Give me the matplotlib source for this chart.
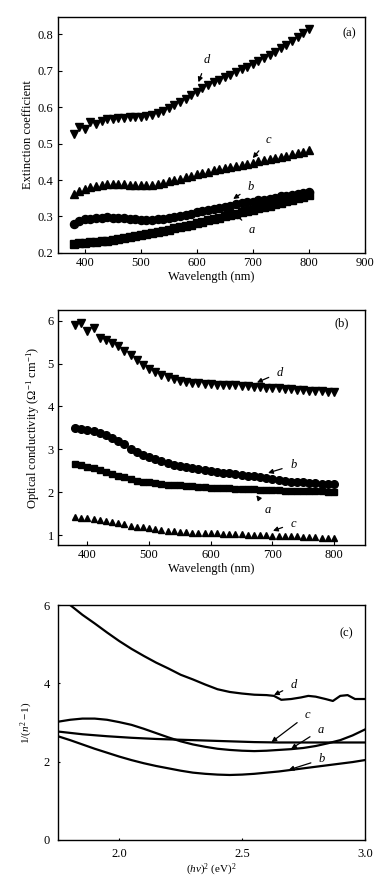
import matplotlib
matplotlib.use("Agg")
import matplotlib.pyplot as plt
import numpy as np

plt.rcParams['font.family'] = ['Liberation Serif', 'DejaVu Serif']
plt.rcParams['mathtext.fontset'] = 'custom'
plt.rcParams['mathtext.rm'] = 'Liberation Serif'
plt.rcParams['mathtext.it'] = 'Liberation Serif:italic'

# ---------- Panel (a): extinction coefficient ----------
wl = list(range(380, 801, 10))
ext_a = [0.225, 0.226, 0.228, 0.229, 0.231, 0.232, 0.234, 0.236, 0.238, 0.240,
         0.243, 0.246, 0.249, 0.252, 0.255, 0.258, 0.261, 0.264, 0.268, 0.271,
         0.275, 0.278, 0.282, 0.286, 0.290, 0.293, 0.297, 0.300, 0.304, 0.308,
         0.312, 0.315, 0.319, 0.322, 0.326, 0.330, 0.334, 0.338, 0.342, 0.346,
         0.350, 0.354, 0.358]
ext_b = [0.280, 0.287, 0.292, 0.294, 0.296, 0.297, 0.298, 0.297, 0.296, 0.295,
         0.293, 0.292, 0.291, 0.291, 0.291, 0.292, 0.294, 0.296, 0.298, 0.301,
         0.304, 0.308, 0.312, 0.315, 0.318, 0.321, 0.324, 0.327, 0.330, 0.333,
         0.336, 0.339, 0.341, 0.344, 0.346, 0.349, 0.352, 0.355, 0.357, 0.360,
         0.362, 0.365, 0.367]
ext_c = [0.363, 0.370, 0.376, 0.380, 0.383, 0.386, 0.388, 0.389, 0.389, 0.388,
         0.387, 0.386, 0.386, 0.386, 0.387, 0.389, 0.392, 0.396, 0.400, 0.404,
         0.408, 0.412, 0.416, 0.420, 0.423, 0.427, 0.430, 0.433, 0.436, 0.439,
         0.442, 0.445, 0.448, 0.451, 0.454, 0.457, 0.460, 0.463, 0.466, 0.470,
         0.474, 0.478, 0.482]
ext_d = [0.525, 0.545, 0.540, 0.560, 0.553, 0.563, 0.566, 0.568, 0.570, 0.571,
         0.572, 0.573, 0.574, 0.576, 0.579, 0.584, 0.590, 0.597, 0.605, 0.614,
         0.622, 0.632, 0.642, 0.652, 0.660, 0.668, 0.675, 0.682, 0.689, 0.696,
         0.703, 0.711, 0.719, 0.727, 0.735, 0.743, 0.752, 0.761, 0.771, 0.781,
         0.792, 0.803, 0.813]

# ---------- Panel (b): optical conductivity ----------
cond_a = [2.66, 2.63, 2.60, 2.56, 2.52, 2.47, 2.43, 2.39, 2.35, 2.31,
          2.27, 2.25, 2.23, 2.21, 2.19, 2.18, 2.17, 2.16, 2.15, 2.14,
          2.13, 2.12, 2.11, 2.10, 2.10, 2.09, 2.08, 2.08, 2.07, 2.07,
          2.06, 2.06, 2.05, 2.05, 2.04, 2.04, 2.03, 2.03, 2.02, 2.02,
          2.02, 2.01, 2.01]
cond_b = [3.51, 3.48, 3.45, 3.42, 3.38, 3.33, 3.27, 3.20, 3.12, 3.00,
          2.93, 2.87, 2.82, 2.77, 2.72, 2.68, 2.64, 2.61, 2.58, 2.56,
          2.54, 2.51, 2.49, 2.47, 2.46, 2.45, 2.43, 2.41, 2.39, 2.37,
          2.35, 2.33, 2.31, 2.29, 2.27, 2.25, 2.24, 2.23, 2.22, 2.21,
          2.20, 2.19, 2.19]
cond_c = [1.42, 1.41, 1.40, 1.38, 1.36, 1.34, 1.31, 1.28, 1.25, 1.22,
          1.20, 1.18, 1.16, 1.14, 1.12, 1.10, 1.09, 1.08, 1.07, 1.06,
          1.05, 1.05, 1.04, 1.04, 1.03, 1.03, 1.02, 1.02, 1.01, 1.01,
          1.00, 1.00, 0.99, 0.99, 0.98, 0.97, 0.97, 0.96, 0.95, 0.95,
          0.94, 0.94, 0.93]
cond_d = [5.90, 5.94, 5.77, 5.82, 5.60, 5.55, 5.48, 5.40, 5.30, 5.20,
          5.08, 4.97, 4.88, 4.80, 4.74, 4.68, 4.63, 4.60, 4.57, 4.55,
          4.54, 4.53, 4.52, 4.51, 4.50, 4.50, 4.49, 4.48, 4.47, 4.46,
          4.45, 4.44, 4.43, 4.42, 4.41, 4.40, 4.39, 4.38, 4.37, 4.36,
          4.35, 4.34, 4.33]

# ---------- Panel (c): 1/(n^2-1) vs (hv)^2 ----------
e_a = [1.75, 1.80, 1.85, 1.90, 1.95, 2.00, 2.05, 2.10, 2.15, 2.20, 2.25, 2.30, 2.35,
       2.40, 2.45, 2.50, 2.55, 2.60, 2.65, 2.70, 2.75, 2.80, 2.85, 2.90, 2.95, 3.00]
inv_a = [3.02, 3.07, 3.10, 3.10, 3.07, 3.01, 2.94, 2.84, 2.73, 2.62, 2.52, 2.44, 2.38,
         2.33, 2.30, 2.28, 2.27, 2.28, 2.30, 2.32, 2.35, 2.40, 2.47, 2.55, 2.67, 2.82]
e_b = [1.75, 1.80, 1.85, 1.90, 1.95, 2.00, 2.05, 2.10, 2.15, 2.20, 2.25, 2.30, 2.35,
       2.40, 2.45, 2.50, 2.55, 2.60, 2.65, 2.70, 2.75, 2.80, 2.85, 2.90, 2.95, 3.00]
inv_b = [2.65, 2.55, 2.44, 2.33, 2.23, 2.13, 2.04, 1.96, 1.89, 1.83, 1.77, 1.72, 1.69,
         1.67, 1.66, 1.67, 1.69, 1.72, 1.75, 1.79, 1.83, 1.87, 1.91, 1.95, 1.99, 2.04]
e_c = [1.75, 1.85, 1.95, 2.05, 2.15, 2.25, 2.35, 2.45, 2.55, 2.65, 2.75, 2.85, 2.95, 3.00]
inv_c = [2.77, 2.70, 2.65, 2.61, 2.58, 2.56, 2.54, 2.52, 2.50, 2.49, 2.49, 2.49, 2.49, 2.49]
e_d = [1.80, 1.85, 1.90, 1.95, 2.00, 2.05, 2.10, 2.15, 2.20, 2.25, 2.30, 2.35, 2.40,
       2.45, 2.50, 2.55, 2.60, 2.63, 2.66, 2.70, 2.74, 2.77, 2.80, 2.84, 2.87, 2.90,
       2.93, 2.96, 3.00]
inv_d = [6.00, 5.75, 5.53, 5.30, 5.08, 4.88, 4.70, 4.53, 4.38, 4.22, 4.10, 3.97, 3.85,
         3.78, 3.74, 3.71, 3.70, 3.68, 3.58, 3.60, 3.64, 3.68, 3.66, 3.60, 3.55, 3.68,
         3.70, 3.60, 3.60]

FS = 9
fig = plt.figure(figsize=(3.91, 8.83), dpi=100)

def style(ax):
    for s in ax.spines.values():
        s.set_linewidth(1.0)
    ax.tick_params(direction='in', length=3, width=0.8, labelsize=FS, pad=3)

def arrow(ax, label, xy, xytext):
    ax.annotate(label, xy=xy, xytext=xytext, fontsize=FS, style='italic',
                ha='center', va='center',
                arrowprops=dict(arrowstyle='-|>', color='black', lw=0.9,
                                mutation_scale=7, shrinkA=4, shrinkB=0))

# Panel (a)
ax1 = fig.add_axes([0.148, 0.7135, 0.785, 0.2673])
ax1.plot(wl, ext_a, marker='s', color='black', ms=5.2, ls='-', lw=2.0)
ax1.plot(wl, ext_b, marker='o', color='black', ms=5.8, ls='-', lw=2.0)
ax1.plot(wl, ext_c, '^', color='black', ms=5.3, ls='none')
ax1.plot(wl, ext_d, 'v', color='black', ms=5.8, ls='none')
ax1.set_xlim(352, 900)
ax1.set_ylim(0.2, 0.847)
ax1.set_xticks([400, 500, 600, 700, 800, 900])
ax1.set_yticks([0.2, 0.3, 0.4, 0.5, 0.6, 0.7, 0.8])
ax1.set_xlabel('Wavelength (nm)', fontsize=FS, labelpad=1)
ax1.set_ylabel('Extinction coefficient', fontsize=FS, labelpad=3)
style(ax1)
ax1.text(0.95, 0.93, '(a)', transform=ax1.transAxes, fontsize=FS, ha='center', va='center')
arrow(ax1, 'd', (603, 0.668), (618, 0.73))
arrow(ax1, 'c', (700, 0.460), (727, 0.51))
arrow(ax1, 'b', (665, 0.348), (696, 0.38))
arrow(ax1, 'a', (668, 0.308), (698, 0.264))

# Panel (b)
ax2 = fig.add_axes([0.148, 0.3828, 0.785, 0.2661])
ax2.plot(wl, cond_a, 's', color='black', ms=5.0, ls='none')
ax2.plot(wl, cond_b, 'o', color='black', ms=5.5, ls='none')
ax2.plot(wl, cond_c, '^', color='black', ms=5.0, ls='none')
ax2.plot(wl, cond_d, 'v', color='black', ms=5.5, ls='none')
ax2.set_xlim(352, 850)
ax2.set_ylim(0.77, 6.25)
ax2.set_xticks([400, 500, 600, 700, 800])
ax2.set_yticks([1, 2, 3, 4, 5, 6])
ax2.set_xlabel('Wavelength (nm)', fontsize=FS, labelpad=1)
ax2.set_ylabel('Optical conductivity (Ω$^{-1}$ cm$^{-1}$)', fontsize=FS, labelpad=4)
style(ax2)
ax2.text(0.924, 0.943, '(b)', transform=ax2.transAxes, fontsize=FS, ha='center', va='center')
arrow(ax2, 'd', (675, 4.56), (712, 4.79))
arrow(ax2, 'b', (693, 2.45), (734, 2.63))
arrow(ax2, 'a', (674, 1.93), (693, 1.58))
arrow(ax2, 'c', (701, 1.10), (734, 1.27))

# Panel (c)
ax3 = fig.add_axes([0.148, 0.0487, 0.785, 0.2661])
lw = 1.6
ax3.plot(e_a, inv_a, '-', color='black', lw=lw)
ax3.plot(e_b, inv_b, '-', color='black', lw=lw)
ax3.plot(e_c, inv_c, '-', color='black', lw=lw)
ax3.plot(e_d, inv_d, '-', color='black', lw=lw)
ax3.set_xlim(1.75, 3.0)
ax3.set_ylim(0, 6)
ax3.set_xticks([2.0, 2.5, 3.0])
ax3.set_xticklabels(['2.0', '2.5', '3.0'])
ax3.set_yticks([0, 2, 4, 6])
ax3.set_xlabel('$(h\\nu)^2$ (eV)$^2$', fontsize=FS - 1, labelpad=1)
ax3.set_ylabel('1/($n^2-1$)', fontsize=FS - 1, labelpad=6)
style(ax3)
ax3.tick_params(length=1.5, pad=6)
ax3.text(0.94, 0.88, '(c)', transform=ax3.transAxes, fontsize=FS, ha='center', va='center')
arrow(ax3, 'd', (2.63, 3.70), (2.71, 3.95))
arrow(ax3, 'c', (2.62, 2.50), (2.765, 3.19))
arrow(ax3, 'a', (2.70, 2.33), (2.82, 2.81))
arrow(ax3, 'b', (2.69, 1.79), (2.826, 2.06))

fig.savefig('out.png', dpi=100)
